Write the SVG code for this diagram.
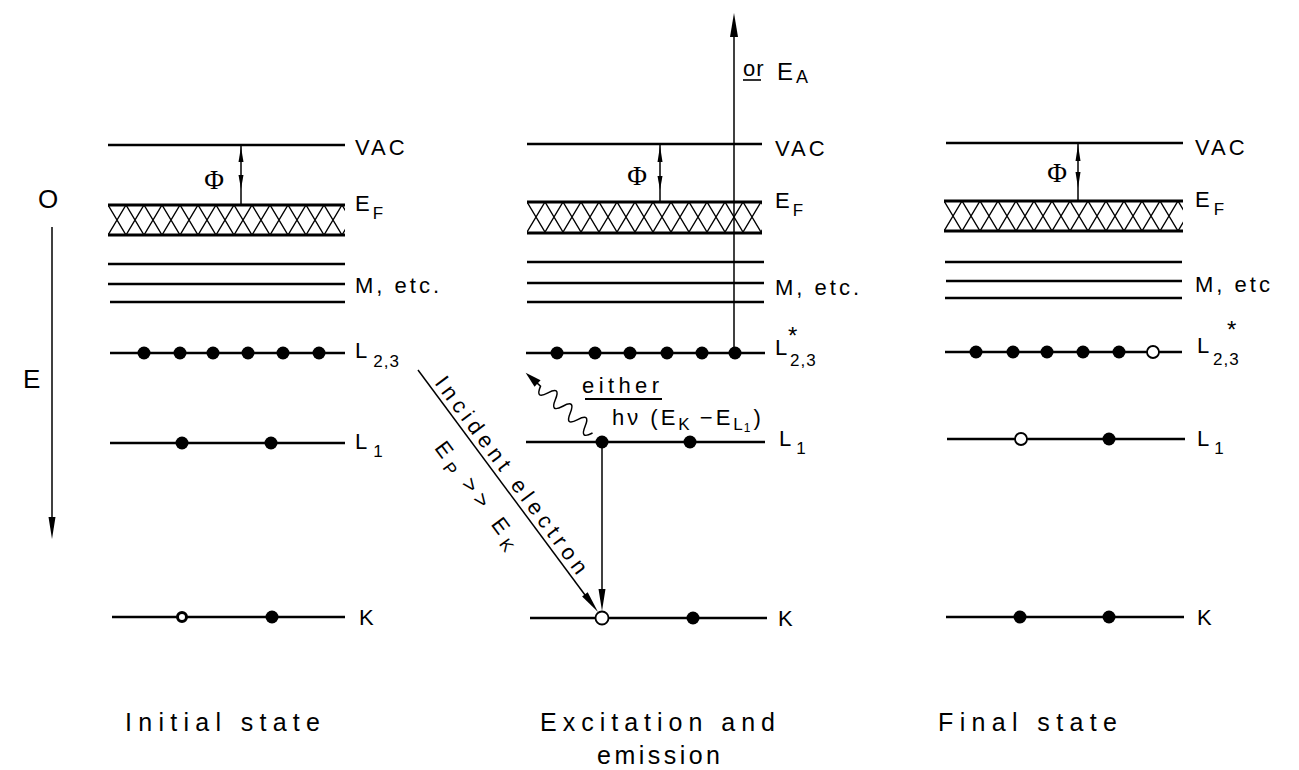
<svg xmlns="http://www.w3.org/2000/svg" width="1299" height="770" viewBox="0 0 1299 770">
<style>
.l{stroke:#000;stroke-width:2.3;fill:none}
.b{stroke:#000;stroke-width:3;fill:none}
.t{font-family:'Liberation Sans',Arial,sans-serif;font-size:22px;fill:#000;letter-spacing:3px}
.s{font-size:17px;letter-spacing:1px}
.st{font-family:'Liberation Sans',Arial,sans-serif;font-size:24px;fill:#000}
.phi{font-family:'Liberation Serif','Times New Roman',serif;font-size:27px;fill:#000;text-anchor:middle}
.d{fill:#000}
.h{fill:#fff;stroke:#000;stroke-width:1.8}
.ah{fill:#000}
.th{stroke:#000;stroke-width:1.5;fill:none}
.cap{font-family:'Liberation Sans',Arial,sans-serif;font-size:25px;fill:#000}
</style>
<defs>
<pattern id="xh" patternUnits="userSpaceOnUse" width="18" height="30">
<path d="M0,0 L18,30 M18,0 L0,30" stroke="#000" stroke-width="1.4" fill="none"/>
</pattern>
</defs>

<g id="initial-state">
<line class="l" x1="108" y1="145" x2="345" y2="145"/>
<g transform="translate(108,205)"><rect width="237" height="30" fill="url(#xh)"/></g>
<line class="b" x1="108" y1="205" x2="345" y2="205"/>
<line class="b" x1="108" y1="235" x2="345" y2="235"/>
<line class="l" x1="108" y1="264" x2="345" y2="264"/>
<line class="l" x1="108" y1="284" x2="345" y2="284"/>
<line class="l" x1="110" y1="302" x2="345" y2="302"/>
<line class="l" x1="110" y1="353" x2="345" y2="353"/>
<line class="l" x1="110" y1="443" x2="345" y2="443"/>
<line class="l" x1="112" y1="617" x2="345" y2="617"/>
<line class="th" x1="241" y1="145" x2="241" y2="205"/>
<polygon class="ah" points="241,147 243.5,162 238.5,162"/>
<polygon class="ah" points="241,189 243.5,175 238.5,175"/>
<text class="phi" x="214" y="189">Φ</text>
<circle class="d" cx="144" cy="353" r="6.5"/>
<circle class="d" cx="180" cy="353" r="6.5"/>
<circle class="d" cx="213" cy="353" r="6.5"/>
<circle class="d" cx="248" cy="353" r="6.5"/>
<circle class="d" cx="283" cy="353" r="6.5"/>
<circle class="d" cx="319" cy="353" r="6.5"/>
<circle class="d" cx="182" cy="443" r="6.5"/>
<circle class="d" cx="271" cy="443" r="6.5"/>
<circle fill="#fff" stroke="#000" stroke-width="3" cx="182" cy="617" r="4.5"/>
<circle class="d" cx="272" cy="617" r="6.5"/>
<text class="t" x="355" y="155">VAC</text>
<text class="t" x="355" y="211">E<tspan class="s" dy="8">F</tspan></text>
<text class="t" x="355" y="293">M, etc.</text>
<text class="t" x="355" y="358">L<tspan class="s" dx="3" dy="9">2,3</tspan></text>
<text class="t" x="355" y="449">L<tspan class="s" dx="3" dy="8">1</tspan></text>
<text class="t" x="359" y="625">K</text>
<text class="cap" x="125" y="731" textLength="195" lengthAdjust="spacing">Initial state</text>
</g>

<g id="excitation-and-emission">
<line class="l" x1="527" y1="144" x2="762" y2="144"/>
<g transform="translate(527,202)"><rect width="235" height="31" fill="url(#xh)"/></g>
<line class="b" x1="527" y1="202" x2="762" y2="202"/>
<line class="b" x1="527" y1="233" x2="762" y2="233"/>
<line class="l" x1="527" y1="262" x2="764" y2="262"/>
<line class="l" x1="527" y1="283" x2="764" y2="283"/>
<line class="l" x1="527" y1="302" x2="764" y2="302"/>
<line class="l" x1="526" y1="353" x2="765" y2="353"/>
<line class="l" x1="526" y1="442" x2="765" y2="442"/>
<line class="l" x1="530" y1="618" x2="767" y2="618"/>
<line class="th" x1="660" y1="144" x2="660" y2="202"/>
<polygon class="ah" points="660,146 662.5,162 657.5,162"/>
<polygon class="ah" points="660,190 662.5,176 657.5,176"/>
<text class="phi" x="637" y="185">Φ</text>
<circle class="d" cx="557" cy="353" r="6.5"/>
<circle class="d" cx="595" cy="353" r="6.5"/>
<circle class="d" cx="630" cy="353" r="6.5"/>
<circle class="d" cx="667" cy="353" r="6.5"/>
<circle class="d" cx="702" cy="353" r="6.5"/>
<circle class="d" cx="735" cy="353" r="6.5"/>
<circle class="d" cx="602" cy="442" r="6.5"/>
<circle class="d" cx="690" cy="442" r="6.5"/>
<circle class="h" cx="602" cy="618" r="6.5"/>
<circle class="d" cx="693" cy="618" r="6.5"/>
<text class="t" x="775" y="156">VAC</text>
<text class="t" x="775" y="208">E<tspan class="s" dy="8">F</tspan></text>
<text class="t" x="775" y="295">M, etc.</text>
<text class="t" x="775" y="355" style="letter-spacing:0">L</text>
<text class="t" x="790" y="366" style="font-size:17px;letter-spacing:1px">2,3</text>
<text class="st" x="788" y="344">*</text>
<text class="t" x="779" y="446">L<tspan class="s" dx="2" dy="8">1</tspan></text>
<text class="t" x="778" y="626">K</text>
<text class="t" x="582" y="393" textLength="80" lengthAdjust="spacing">either</text>
<line x1="585" y1="399" x2="662" y2="399" stroke="#000" stroke-width="2"/>
<text class="t" x="612" y="425">hν (E<tspan class="s" dy="5">K</tspan><tspan dy="-5"> −E</tspan><tspan class="s" dy="5">L</tspan><tspan style="font-size:12px" dy="2">1</tspan><tspan dy="-7">)</tspan></text>
<text class="t" x="743" y="76" style="letter-spacing:1px">or</text>
<line x1="743" y1="80" x2="761" y2="80" stroke="#000" stroke-width="1.6"/>
<text class="t" x="777" y="80" style="font-size:24px">E<tspan class="s" style="font-size:18px" dy="3">A</tspan></text>
<text class="cap" x="540" y="731" textLength="235" lengthAdjust="spacing">Excitation and</text>
<text class="cap" x="597" y="764" textLength="123" lengthAdjust="spacing">emission</text>
</g>

<g id="final-state">
<line class="l" x1="946" y1="143" x2="1183" y2="143"/>
<g transform="translate(944,201)"><rect width="239" height="30" fill="url(#xh)"/></g>
<line class="b" x1="944" y1="201" x2="1183" y2="201"/>
<line class="b" x1="944" y1="231" x2="1183" y2="231"/>
<line class="l" x1="945" y1="262" x2="1182" y2="262"/>
<line class="l" x1="946" y1="281" x2="1182" y2="281"/>
<line class="l" x1="945" y1="298" x2="1182" y2="298"/>
<line class="l" x1="945" y1="352" x2="1182" y2="352"/>
<line class="l" x1="947" y1="439" x2="1185" y2="439"/>
<line class="l" x1="946" y1="617" x2="1184" y2="617"/>
<line class="th" x1="1078" y1="143" x2="1078" y2="201"/>
<polygon class="ah" points="1078,145 1080.5,161 1075.5,161"/>
<polygon class="ah" points="1078,188 1080.5,172 1075.5,172"/>
<text class="phi" x="1057" y="182">Φ</text>
<circle class="d" cx="976" cy="352" r="6.5"/>
<circle class="d" cx="1013" cy="352" r="6.5"/>
<circle class="d" cx="1047" cy="352" r="6.5"/>
<circle class="d" cx="1083" cy="352" r="6.5"/>
<circle class="d" cx="1119" cy="352" r="6.5"/>
<circle class="h" cx="1153" cy="352" r="6"/>
<circle class="h" cx="1021" cy="439" r="6"/>
<circle class="d" cx="1109" cy="439" r="6.5"/>
<circle class="d" cx="1020" cy="617" r="6.5"/>
<circle class="d" cx="1109" cy="617" r="6.5"/>
<text class="t" x="1195" y="155">VAC</text>
<text class="t" x="1195" y="207">E<tspan class="s" dx="1" dy="8">F</tspan></text>
<text class="t" x="1195" y="292">M, etc</text>
<text class="t" x="1197" y="353" style="letter-spacing:0">L</text>
<text class="t" x="1213" y="365" style="font-size:17px;letter-spacing:1px">2,3</text>
<text class="st" x="1227" y="338">*</text>
<text class="t" x="1197" y="446">L<tspan class="s" dx="2" dy="8">1</tspan></text>
<text class="t" x="1197" y="625">K</text>
<text class="cap" x="938" y="731" textLength="179" lengthAdjust="spacing">Final state</text>
</g>

<g id="energy-axis">
<text class="cap" x="48" y="208" text-anchor="middle" style="font-size:26px">O</text>
<text class="cap" x="23" y="388" style="font-size:26px">E</text>
</g>

<g id="connectors">
<line class="th" x1="52" y1="227" x2="52" y2="522"/>
<polygon class="ah" points="52,539 48.5,517 55.5,517"/>
<line class="th" x1="734" y1="347" x2="734" y2="30"/>
<polygon class="ah" points="734,13 730,37 738,37"/>
<line class="th" x1="418" y1="370" x2="588" y2="599"/>
<polygon class="ah" points="598,612 587.7,592.3 582.1,596.5"/>
<line class="th" x1="602" y1="448" x2="602" y2="595"/>
<polygon class="ah" points="602,611 598.5,589 605.5,589"/>
<g transform="translate(597,437) rotate(-138)">
<path class="th" d="M6,0 q5,-14 10,0 t10,0 t10,0 t10,0 t10,0 t10,0 t10,0 L82,0"/>
<polygon class="ah" points="96,0 80,-4.5 80,4.5"/>
</g>
<g transform="translate(418,370) rotate(53.4)">
<text class="t" x="20" y="-5" textLength="243" lengthAdjust="spacing">Incident electron</text>
<text class="t" x="72" y="34" style="letter-spacing:6px">E<tspan class="s" dy="5">P</tspan><tspan dy="-5"> &gt;&gt; E</tspan><tspan class="s" dy="5">K</tspan></text>
</g>
</g>
</svg>
